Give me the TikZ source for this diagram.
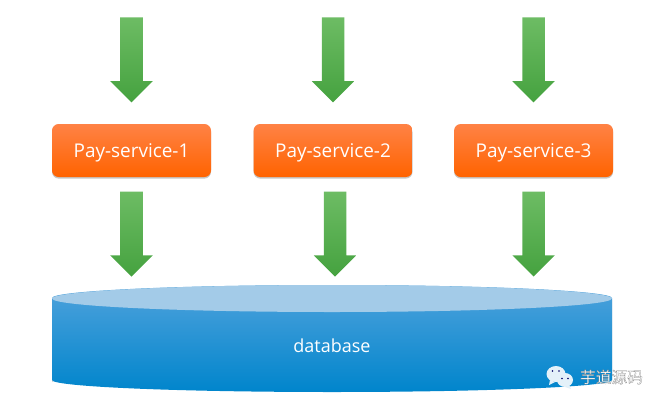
\documentclass[tikz,border=0pt]{standalone}
\usepackage{fontspec}
\setmainfont{Open Sans}
\newfontfamily\cjkfont{Noto Sans CJK SC}
\usetikzlibrary{positioning, shapes.arrows, shadows}
\definecolor{payhi}{HTML}{FF8245}
\definecolor{paymid}{HTML}{FF6C12}
\definecolor{paylo}{HTML}{FF6300}
\definecolor{flowhi}{HTML}{6DBC64}
\definecolor{flowlo}{HTML}{45A23F}
\definecolor{dbhi}{HTML}{4FA2DC}
\definecolor{dblo}{HTML}{0085CC}
\definecolor{dbtop}{HTML}{A3CBE8}
\definecolor{chat}{HTML}{E4F1F9}
\begin{document}
\begin{tikzpicture}[
        x=0.75pt, y=-0.75pt,
        font=\fontsize{13.5pt}{16pt}\selectfont,
        paybox/.style={rounded corners=5pt, minimum width=119.25pt, minimum height=39.75pt,
            inner sep=0pt, text=white, top color=payhi, middle color=paymid, bottom color=paylo,
            font=\fontsize{14.2pt}{16pt}\selectfont, text height=13.5pt, text depth=3pt,
            drop shadow={opacity=.45, shadow xshift=0pt, shadow yshift=-1.2pt}},
        flow/.style={single arrow, shape border rotate=270, inner sep=8.25pt,
            minimum height=63.75pt, minimum width=31.5pt, single arrow head extend=7.5pt,
            single arrow tip angle=90, top color=flowhi, bottom color=flowlo},
        bubble/.style={fill=chat}
        ]
        \useasboundingbox (0,0) rectangle (665,408);
        % services
        \node[paybox] (pay1) at (131.5,150.5) {Pay-service-1};
        \node[paybox, right=31.5pt of pay1] (pay2) {Pay-service-2};
        \node[paybox, right=30.75pt of pay2] (pay3) {Pay-service-3};
        % arrows into the services
        \node[flow, above=15.75pt of pay1] (in1) {};
        \node[flow, above=15.75pt of pay2] (in2) {};
        \node[flow, above=15.75pt of pay3] (in3) {};
        % arrows down to the database
        \node[flow, below=10.5pt of pay1] (out1) {};
        \node[flow, below=10.5pt of pay2, xshift=1.5pt] (out2) {};
        \node[flow, below=10.5pt of pay3] (out3) {};
        % database
        \fill[black!45, opacity=.5] (52,300) -- (52,382) arc[start angle=180, end angle=360, x radius=280, y radius=12]
            -- (612,300) -- cycle;
        \shade[top color=dbhi, bottom color=dblo] (52,298) -- (52,380)
            arc[start angle=180, end angle=360, x radius=280, y radius=-12] -- (612,298)
            arc[start angle=0, end angle=180, x radius=280, y radius=-13] -- cycle;
        \fill[dbtop] (332,298.5) ellipse[x radius=280, y radius=13.5];
        \node[text=white] (db) at (332,346) {database};
        % watermark
        \fill[bubble] (556,374) ellipse[x radius=9.5, y radius=8];
        \fill[bubble] (550,380) -- (549,385) -- (555,382) -- cycle;
        \fill[bubble] (565,380) ellipse[x radius=8, y radius=7];
        \fill[bubble] (569,385) -- (571,389) -- (565,387) -- cycle;
        \fill[black!60!blue] (552.5,371) circle[radius=.9] (559,371) circle[radius=.9]
            (562,378.5) circle[radius=.8] (568,378.5) circle[radius=.8];
        \node[text=white, font=\cjkfont\fontsize{11.8pt}{14pt}\selectfont] (mark) at (611.5,377)
            {\special{pdf:code 2 Tr 0.15 w 0.45 G}芋道源码\special{pdf:code 0 Tr}};
    \end{tikzpicture}
\end{document}
